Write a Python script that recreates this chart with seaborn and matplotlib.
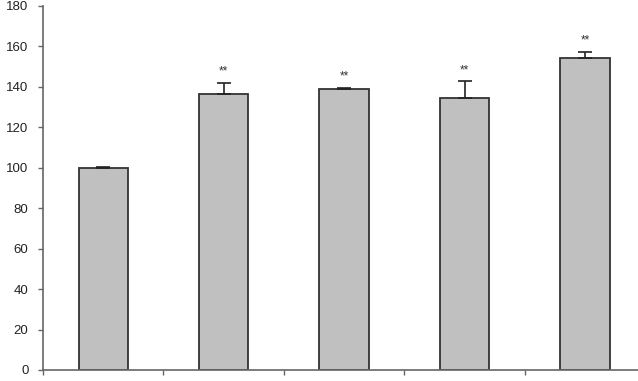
import matplotlib
matplotlib.use("Agg")
import matplotlib.pyplot as plt
import seaborn as sns
import pandas as pd
import numpy as np

groups = ["G1", "G2", "G3", "G4", "G5"]
values = [100.0, 136.5, 139.0, 134.3, 154.5]
errors = [0.3, 5.5, 0.5, 8.5, 2.8]
marks = ["", "**", "**", "**", "**"]
yticks = [0, 20, 40, 60, 80, 100, 120, 140, 160, 180]

sns.set_style("white")
plt.rcParams['font.family'] = ['Liberation Sans', 'DejaVu Sans']

df = pd.DataFrame({"group": groups, "value": values})

fig = plt.figure(figsize=(6.38, 3.81), dpi=100)
ax = fig.add_axes([43/638, 11/381, 1 - 43/638, (370-6)/381])

sns.barplot(data=df, x="group", y="value", ax=ax, color="#c0c0c0",
            saturation=1, width=0.41, edgecolor="#333333", linewidth=1.3,
            errorbar=None)

xs = [p.get_x() + p.get_width()/2 for p in ax.patches]
ax.errorbar(xs, values, yerr=[[0]*len(errors), errors], fmt="none",
            ecolor="#222222", elinewidth=1.2, capsize=5, capthick=1.2)
for x, v, e, m in zip(xs, values, errors, marks):
    if m:
        ax.text(x, v + e + 2.5, m, ha="center", va="bottom", fontsize=8.5, color="#333333")

ax.set_ylim(0, 180)
ax.set_yticks(yticks)
ax.set_xlim(-0.5, 4.44)
ax.set_xticks(np.arange(-0.5, 4.5, 1.0))
ax.set_xticklabels([])
ax.set_xlabel("")
ax.set_ylabel("")
for s in ["top", "right"]:
    ax.spines[s].set_visible(False)
for s in ["left", "bottom"]:
    ax.spines[s].set_color("#666666")
    ax.spines[s].set_linewidth(1.2)
ax.tick_params(axis="both", direction="out", length=3.5, width=1, color="#666666",
               labelsize=9.5, labelcolor="#222222", left=True, bottom=True)
ax.tick_params(axis="y", pad=7)

fig.savefig("out.png", dpi=100)
